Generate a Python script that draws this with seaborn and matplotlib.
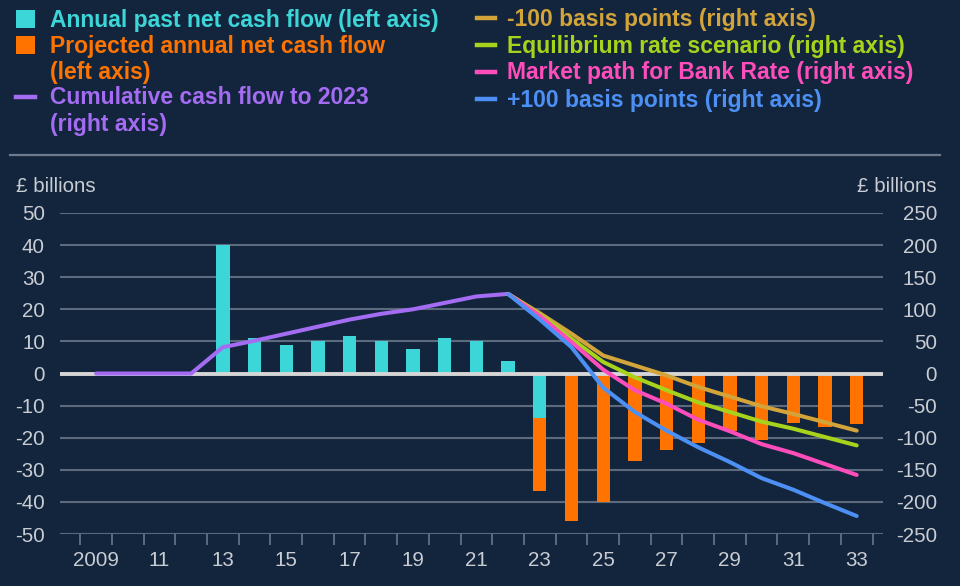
import matplotlib
matplotlib.use("Agg")
import matplotlib.pyplot as plt
import seaborn as sns
import numpy as np
import pandas as pd
from matplotlib.patches import Rectangle
from matplotlib.lines import Line2D
from matplotlib.ticker import FixedLocator

# ---------------- data ----------------
past_years = [2013, 2014, 2015, 2016, 2017, 2018, 2019, 2020, 2021, 2022, 2023]
past_flow = [40, 11, 8.9, 10.2, 11.8, 10, 7.6, 11, 10.1, 4, -14]

proj_years = [2023, 2024, 2025, 2026, 2027, 2028, 2029, 2030, 2031, 2032, 2033]
proj_flow = [-36.7, -46, -40, -27.3, -23.8, -21.7, -18, -20.6, -15.5, -16.8, -15.7]

cum_years = [2009, 2010, 2011, 2012, 2013, 2014, 2015, 2016, 2017, 2018, 2019, 2020, 2021, 2022]
cum_flow = [0, 0, 0, 0, 41, 51, 62, 73, 84, 93, 100, 110, 120, 124]

scen_years = [2022, 2023, 2024, 2025, 2026, 2027, 2028, 2029, 2030, 2031, 2032, 2033]
minus100 = [124, 94, 62, 28, 12.5, -3, -21, -36, -51, -63, -76, -89]
equilibrium = [124, 92, 54, 18, -6, -26, -45, -60, -75, -86, -99, -112]
market_path = [124, 90, 49, 6, -26, -47, -72, -90, -110, -124, -141, -158]
plus100 = [124, 84, 41, -22, -60, -89, -115, -138, -163, -181, -202, -222]

left_ticks = [50, 40, 30, 20, 10, 0, -10, -20, -30, -40, -50]
right_ticks = [250, 200, 150, 100, 50, 0, -50, -100, -150, -200, -250]
x_label_years = list(range(2009, 2034, 2))
x_labels = ["2009"] + [str(y)[2:] for y in x_label_years[1:]]

# ---------------- style ----------------
BG = "#13253D"
CYAN = "#3DD6D8"
ORANGE = "#FF7400"
PURPLE = "#A46CF2"
GOLD = "#D2A43A"
GREEN = "#A8D31C"
PINK = "#FF4DBB"
BLUE = "#4D90F5"
TXT = "#C9CDD3"
GRID = "#5C6A7E"
ZERO = "#D6D6D6"

plt.rcParams["font.family"] = ["Liberation Sans", "DejaVu Sans"]

W, H = 960, 586
fig = plt.figure(figsize=(W / 100, H / 100), dpi=100, facecolor=BG)

def fx(px):
    return px / W

def fy(py):
    return 1 - py / H

ax = fig.add_axes([fx(60), fy(534), fx(883) - fx(60), fy(213) - fy(534)])
ax.set_facecolor(BG)

# bars (left axis)
df_proj = pd.DataFrame({"year": proj_years, "value": proj_flow})
df_past = pd.DataFrame({"year": past_years, "value": past_flow})
sns.barplot(data=df_proj, x="year", y="value", native_scale=True, color=ORANGE,
            saturation=1, width=0.42, errorbar=None, ax=ax, zorder=2, linewidth=0)
sns.barplot(data=df_past, x="year", y="value", native_scale=True, color=CYAN,
            saturation=1, width=0.42, errorbar=None, ax=ax, zorder=2, linewidth=0)

ax.set_xlim(2007.86, 2033.83)
ax.set_ylim(-50, 50)
ax.axhline(0, color=ZERO, lw=2.8, zorder=3)

ax.yaxis.set_major_locator(FixedLocator(left_ticks))
ax.set_yticklabels([str(v) for v in left_ticks])
ax.grid(axis="y", color=GRID, lw=1.5, zorder=0)
ax.grid(axis="x", visible=False)
ax.set_axisbelow(True)
for s in ax.spines.values():
    s.set_visible(False)
ax.set_xlabel("")
ax.set_ylabel("")

ax.xaxis.set_major_locator(FixedLocator(x_label_years))
ax.set_xticklabels(x_labels)
ax.xaxis.set_minor_locator(FixedLocator([y + 0.5 for y in range(2008, 2034)]))
ax.tick_params(axis="x", which="major", length=0, pad=12, labelsize=14.8, labelcolor=TXT)
ax.tick_params(axis="x", which="minor", length=8, width=1.4, color=GRID, direction="out")
ax.tick_params(axis="y", length=0, pad=10.8, labelsize=14.8, labelcolor=TXT)

# lines (right axis)
ax2 = ax.twinx()
ax2.set_ylim(-250, 250)
ax2.set_xlim(2007.86, 2033.83)
lw = 2.9
kw = dict(ax=ax2, lw=lw, errorbar=None, solid_capstyle="round", solid_joinstyle="round")
sns.lineplot(x=cum_years, y=cum_flow, color=PURPLE, **kw)
sns.lineplot(x=scen_years, y=minus100, color=GOLD, **kw)
sns.lineplot(x=scen_years, y=equilibrium, color=GREEN, **kw)
sns.lineplot(x=scen_years, y=market_path, color=PINK, **kw)
sns.lineplot(x=scen_years, y=plus100, color=BLUE, **kw)
ax2.yaxis.set_major_locator(FixedLocator(right_ticks))
ax2.set_yticklabels([str(v) for v in right_ticks])
ax2.tick_params(axis="y", length=0, pad=38.9, labelsize=14.8, labelcolor=TXT)
for lab in ax2.get_yticklabels():
    lab.set_horizontalalignment("right")
for s in ax2.spines.values():
    s.set_visible(False)
ax2.grid(False)
ax2.set_xlabel("")
ax2.set_ylabel("")

# axis unit labels
fig.text(fx(16), fy(187), "£ billions", color=TXT, fontsize=14.8, va="center", ha="left")
fig.text(fx(937), fy(187), "£ billions", color=TXT, fontsize=14.8, va="center", ha="right")

# separator
fig.add_artist(Line2D([fx(10), fx(940)], [fy(155), fy(155)], color="#6E7A8B", lw=1.6))

# legend
LFS = 16.5
def sq(y0, y1, color):
    fig.add_artist(Rectangle((fx(16), fy(y1)), fx(35) - fx(16), fy(y0) - fy(y1),
                             transform=fig.transFigure, color=color, lw=0))

def dash(x0, x1, y, color):
    fig.add_artist(Line2D([fx(x0), fx(x1)], [fy(y), fy(y)], color=color, lw=3.2))

def ltxt(x, yb, s, color):
    fig.text(fx(x), fy(yb), s, color=color, fontsize=LFS, fontweight="bold",
             ha="left", va="baseline")

sq(10, 28, CYAN)
ltxt(50, 26.7, "Annual past net cash flow (left axis)", CYAN)
sq(36, 54, ORANGE)
ltxt(50, 52.7, "Projected annual net cash flow", ORANGE)
ltxt(50, 79.3, "(left axis)", ORANGE)
dash(16, 35, 97, PURPLE)
ltxt(50, 104.3, "Cumulative cash flow to 2023", PURPLE)
ltxt(50, 130.5, "(right axis)", PURPLE)

dash(477, 495, 18.3, GOLD)
ltxt(507, 26, "-100 basis points (right axis)", GOLD)
dash(477, 495, 45, GREEN)
ltxt(507, 52.7, "Equilibrium rate scenario (right axis)", GREEN)
dash(477, 495, 71.7, PINK)
ltxt(507, 79.5, "Market path for Bank Rate (right axis)", PINK)
dash(477, 495, 99.3, BLUE)
ltxt(507, 106.7, "+100 basis points (right axis)", BLUE)

fig.savefig("out.png", dpi=100, facecolor=BG)
